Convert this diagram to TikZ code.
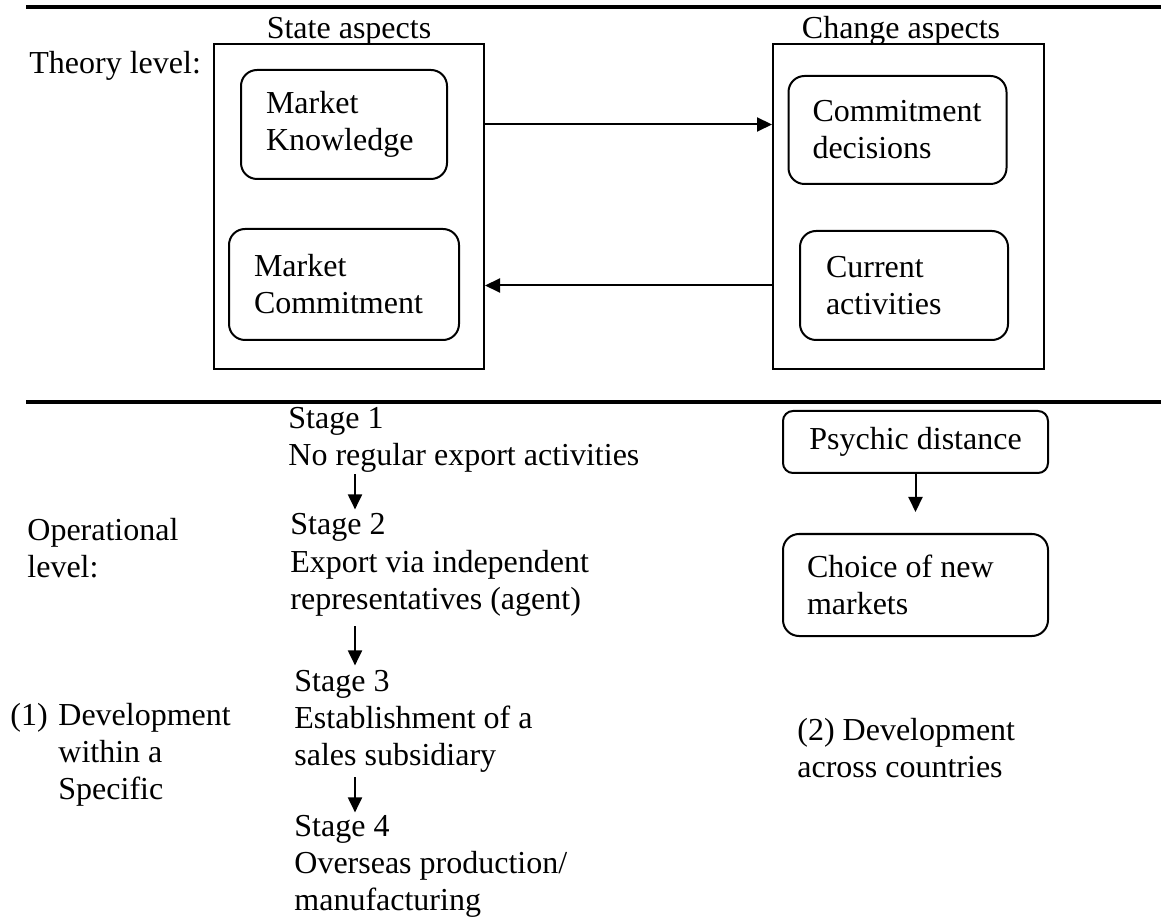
\documentclass[tikz,border=0pt]{standalone}
\usepackage{fontspec}
\setmainfont{Liberation Serif}
\usetikzlibrary{arrows.meta,calc}

\begin{document}
\begin{tikzpicture}[
  x=0.5pt, y=-0.5pt,
  font=\fontsize{16}{18.5}\selectfont,
  aspectbox/.style={rectangle, draw, line width=1pt, inner sep=0pt},
  rbox/.style={rectangle, draw, rounded corners=8pt, line width=1pt, align=flush left, inner xsep=12.5pt, inner ysep=0pt},
  txt/.style={anchor=base west, align=left, inner sep=0pt},
  arrow/.style={-{Triangle[length=7.5pt, width=7pt]}, line width=1pt},
  rule/.style={line width=1.6pt},
]
\useasboundingbox (0,0) rectangle (1161,924);

% === THEORY LEVEL ===
\draw[rule] (26,7) -- (1161,7);
\node[txt] (theory) at (29,74) {Theory level:};

\node[aspectbox, minimum width=135pt, minimum height=162.5pt] (state) at (349,206.5) {};
\node[aspectbox, minimum width=135.5pt, minimum height=162.5pt] (change) at (908.5,206.5) {};
\node[anchor=base, inner sep=0pt] (statehead) at (349,39) {State aspects};
\node[anchor=base, inner sep=0pt] (changehead) at (901,39) {Change aspects};

\node[rbox, text width=78pt, minimum height=54.5pt] (knowledge) at (344,124.5) {Market\\Knowledge};
\node[rbox, text width=90pt, minimum height=55.5pt] (commitment) at (344,284.5) {Market\\Commitment};
\node[rbox, text width=85pt, inner xsep=12pt, minimum height=54pt] (decisions) at (897.5,130) {Commitment\\decisions};
\node[rbox, text width=78pt, inner xsep=13pt, minimum height=54.5pt] (activities) at (904,285.5) {Current\\activities};

\draw[arrow] (state.east |- knowledge.east) -- (change.west |- knowledge.east);
\draw[arrow] (change.west |- activities.west) -- (state.east |- activities.west);

% === OPERATIONAL LEVEL ===
% (base of a multi-line node = baseline of its last line)
\draw[rule] (26,402) -- (1161,402);
\node[txt] (operational) at (27,577) {Operational\\level:};
\node[txt] (num1) at (10,725) {(1)};
\node[txt] (within) at (58,799) {Development\\within a\\Specific};

\coordinate (stagex) at (355,0);
\node[txt] (stage1) at (288,466) {Stage 1\\No regular export activities};
\node[txt] (stage2) at (290,609) {Stage 2\\Export via independent\\representatives (agent)};
\node[txt] (stage3) at (294,765) {Stage 3\\Establishment of a\\sales subsidiary};
\node[txt] (stage4) at (294,910) {Stage 4\\Overseas production/\\manufacturing};

\draw[arrow, shorten <=0.5pt, shorten >=2pt] (stage1.south -| stagex) -- (stage2.north -| stagex);
\draw[arrow, shorten <=5pt, shorten >=2pt] (stage2.south -| stagex) -- (stage3.north -| stagex);
\draw[arrow, shorten <=2.5pt, shorten >=1pt] (stage3.south -| stagex) -- (stage4.north -| stagex);

\node[rbox, rounded corners=5pt, minimum width=132.5pt, minimum height=31pt, inner xsep=0pt] (psychic) at (915.5,442) {Psychic distance};
\node[rbox, text width=108.5pt, inner xsep=12pt, minimum height=51pt] (newmarkets) at (915.5,585) {Choice of new\\markets};
\draw[arrow, shorten >=10.5pt] (psychic) -- (newmarkets);

\node[txt] (dev2) at (797,777) {(2) Development\\across countries};
\end{tikzpicture}
\end{document}
